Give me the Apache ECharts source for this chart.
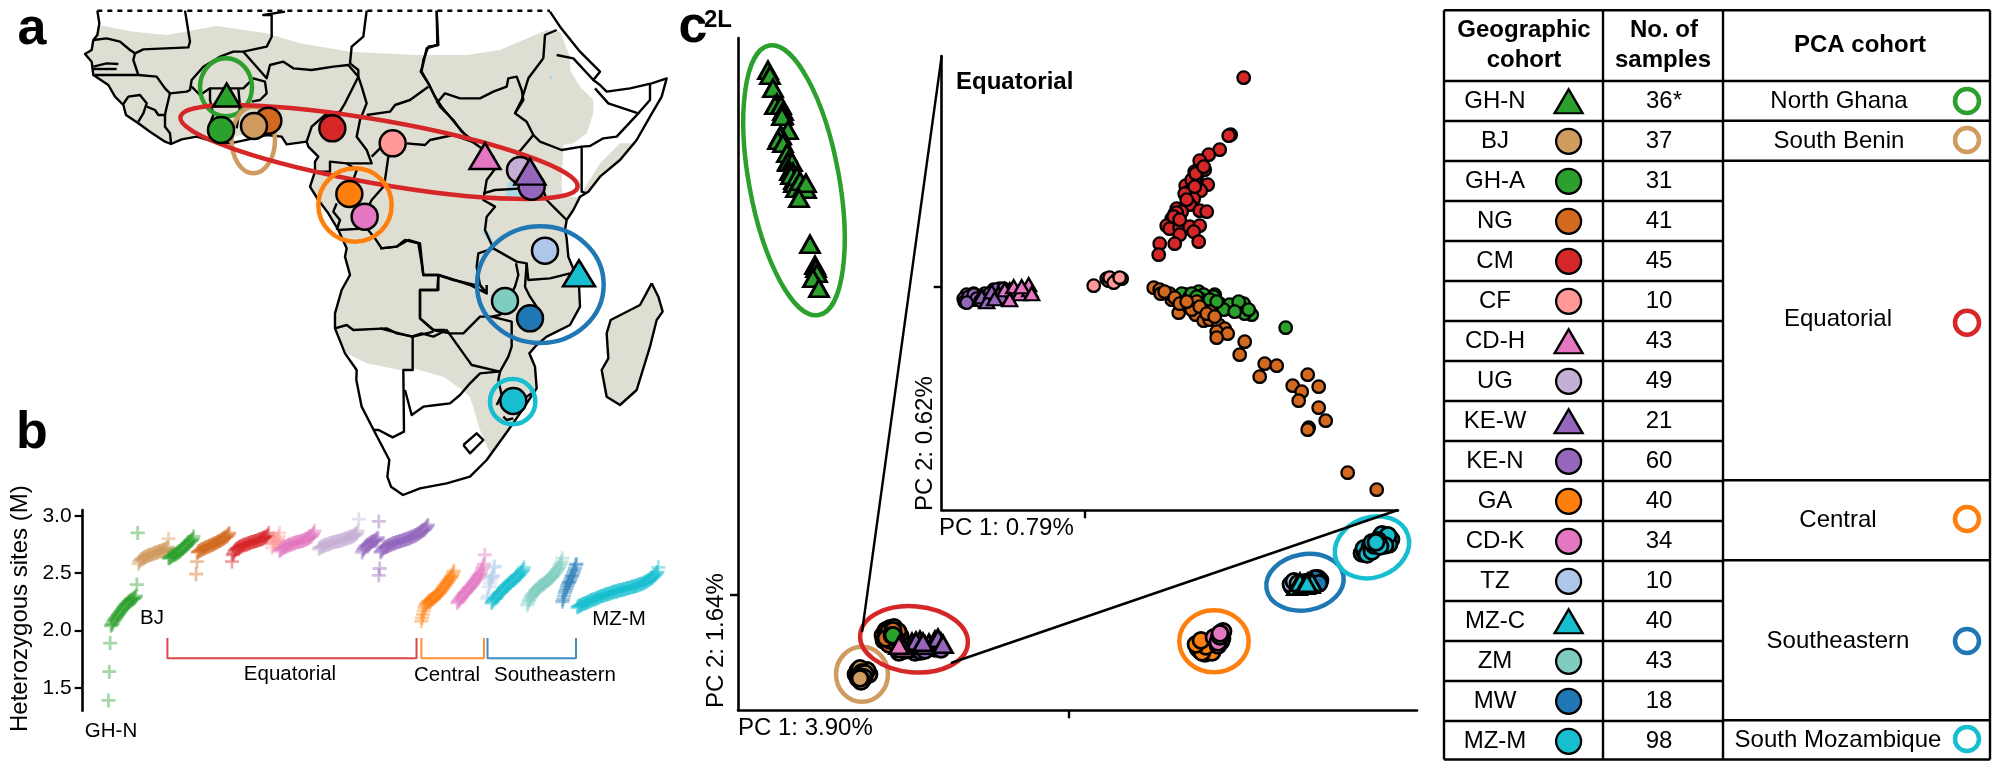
<!DOCTYPE html>
<html><head><meta charset="utf-8">
<style>html,body{margin:0;padding:0;background:#fff}#c{width:2000px;height:771px}</style>
<script src="https://cdn.jsdelivr.net/npm/echarts@6/dist/echarts.min.js"></script>
</head><body><div id="c"></div>
<script>
// ---------- cohorts ----------
const cohorts = ['GH-N','BJ','GH-A','NG','CM','CF','CD-H','UG','KE-W','KE-N','GA','CD-K','TZ','MZ-C','ZM','MW','MZ-M'];
const sampleLabels = ['36*','37','31','41','45','10','43','49','21','60','40','34','10','40','43','18','98'];
const cohortColors = ['#2ca02c','#cf9b5f','#2ca02c','#d2691e','#d62728','#ff9896','#e377c2','#c5b0d5','#9467bd','#9467bd','#ff7f0e','#e377c2','#aec7e8','#17becf','#7fcdc0','#1f77b4','#17becf'];
const triangleCohorts = ['GH-N','CD-H','KE-W','MZ-C'];
const pcaCohorts = ['North Ghana','South Benin','Equatorial','Central','Southeastern','South Mozambique'];
const pcaColors = ['#2ca02c','#cf9b5f','#d62728','#ff7f0e','#1f77b4','#17becf'];

// ---------- panel b: heterozygous sites (millions), sorted in each cohort ----------
const hetRankStart = [0,36,72,105,148,196,205,252,304,324,375,418,454,459,502,544,562];
const hetGHN = [1.39,1.64,1.89,2.04,2.05,2.06,2.08,2.09,2.10,2.11,2.12,2.13,2.14,2.15,2.16,2.17,2.18,2.19,2.20,2.21,2.22,2.23,2.23,2.24,2.25,2.25,2.26,2.26,2.27,2.27,2.28,2.28,2.29,2.30,2.40,2.85];
const hetBJ = [2.58,2.60,2.61,2.62,2.62,2.63,2.63,2.64,2.64,2.64,2.65,2.65,2.65,2.66,2.66,2.66,2.66,2.67,2.67,2.67,2.68,2.68,2.68,2.68,2.69,2.69,2.69,2.69,2.70,2.70,2.70,2.71,2.71,2.71,2.72,2.73,2.80];
const hetGHA = [2.63,2.63,2.64,2.64,2.65,2.65,2.66,2.66,2.66,2.67,2.67,2.68,2.68,2.69,2.69,2.70,2.71,2.71,2.72,2.73,2.74,2.74,2.75,2.76,2.76,2.77,2.78,2.78,2.79,2.80,2.82];
const hetNG = [2.49,2.60,2.68,2.69,2.69,2.70,2.70,2.71,2.71,2.71,2.72,2.72,2.72,2.73,2.73,2.73,2.74,2.74,2.74,2.75,2.75,2.75,2.76,2.76,2.76,2.77,2.77,2.78,2.78,2.78,2.79,2.79,2.80,2.80,2.81,2.81,2.82,2.82,2.83,2.84,2.85];
const hetCM = [2.60,2.66,2.67,2.69,2.70,2.71,2.71,2.72,2.72,2.73,2.73,2.73,2.74,2.74,2.74,2.75,2.75,2.75,2.75,2.76,2.76,2.76,2.76,2.77,2.77,2.77,2.77,2.78,2.78,2.78,2.78,2.79,2.79,2.79,2.79,2.80,2.80,2.80,2.81,2.81,2.81,2.82,2.82,2.83,2.85];
const hetCF = [2.72,2.75,2.76,2.77,2.78,2.78,2.79,2.80,2.82,2.85];
const hetCDH = [2.69,2.70,2.71,2.71,2.72,2.72,2.73,2.73,2.73,2.74,2.74,2.74,2.75,2.75,2.75,2.75,2.76,2.76,2.76,2.76,2.77,2.77,2.77,2.77,2.77,2.78,2.78,2.78,2.78,2.79,2.79,2.79,2.80,2.80,2.80,2.81,2.81,2.82,2.82,2.83,2.84,2.85,2.87];
const hetUG = [2.71,2.72,2.72,2.73,2.73,2.73,2.74,2.74,2.74,2.75,2.75,2.75,2.75,2.76,2.76,2.76,2.76,2.77,2.77,2.77,2.77,2.77,2.78,2.78,2.78,2.78,2.78,2.79,2.79,2.79,2.79,2.80,2.80,2.80,2.80,2.81,2.81,2.81,2.81,2.82,2.82,2.82,2.83,2.83,2.84,2.84,2.85,2.87,2.97];
const hetKEW = [2.68,2.70,2.71,2.72,2.73,2.74,2.74,2.75,2.75,2.76,2.76,2.77,2.77,2.78,2.78,2.78,2.79,2.79,2.80,2.81,2.95];
const hetKEN = [2.48,2.54,2.68,2.69,2.70,2.71,2.72,2.72,2.73,2.73,2.73,2.74,2.74,2.74,2.75,2.75,2.75,2.76,2.76,2.76,2.76,2.77,2.77,2.77,2.77,2.78,2.78,2.78,2.78,2.79,2.79,2.79,2.79,2.80,2.80,2.80,2.80,2.81,2.81,2.81,2.82,2.82,2.82,2.83,2.83,2.83,2.84,2.84,2.85,2.85,2.86,2.86,2.87,2.87,2.88,2.88,2.89,2.90,2.91,2.92];
const hetGA = [2.08,2.11,2.14,2.17,2.20,2.22,2.23,2.24,2.25,2.25,2.26,2.26,2.27,2.27,2.28,2.28,2.29,2.30,2.30,2.31,2.32,2.32,2.33,2.34,2.35,2.36,2.37,2.38,2.39,2.40,2.41,2.42,2.43,2.44,2.45,2.46,2.47,2.48,2.50,2.52];
const hetCDK = [2.24,2.25,2.26,2.27,2.28,2.29,2.30,2.31,2.32,2.33,2.33,2.34,2.35,2.36,2.37,2.37,2.38,2.39,2.40,2.41,2.42,2.43,2.44,2.45,2.46,2.47,2.48,2.49,2.50,2.52,2.54,2.56,2.58,2.66];
const hetTZ = [2.28,2.30,2.38,2.41,2.44,2.46,2.47,2.48,2.55,2.56];
const hetMZC = [2.24,2.25,2.26,2.27,2.28,2.28,2.29,2.30,2.31,2.32,2.33,2.33,2.34,2.35,2.36,2.37,2.37,2.38,2.39,2.39,2.40,2.41,2.41,2.42,2.43,2.43,2.44,2.44,2.45,2.46,2.46,2.47,2.48,2.48,2.49,2.50,2.51,2.52,2.53,2.55];
const hetZM = [2.22,2.24,2.26,2.27,2.29,2.30,2.31,2.32,2.33,2.34,2.35,2.36,2.36,2.37,2.38,2.38,2.39,2.39,2.40,2.40,2.41,2.41,2.42,2.43,2.43,2.44,2.44,2.45,2.46,2.46,2.47,2.48,2.49,2.50,2.51,2.52,2.53,2.54,2.55,2.57,2.58,2.60,2.63];
const hetMW = [2.25,2.27,2.30,2.33,2.35,2.37,2.39,2.41,2.42,2.43,2.45,2.47,2.48,2.50,2.52,2.54,2.57,2.58];
const hetMZM = [2.20,2.21,2.21,2.22,2.22,2.22,2.23,2.23,2.23,2.24,2.24,2.24,2.25,2.25,2.25,2.26,2.26,2.26,2.27,2.27,2.27,2.27,2.28,2.28,2.28,2.29,2.29,2.29,2.30,2.30,2.30,2.30,2.31,2.31,2.31,2.31,2.32,2.32,2.32,2.32,2.33,2.33,2.33,2.33,2.34,2.34,2.34,2.34,2.34,2.35,2.35,2.35,2.35,2.35,2.36,2.36,2.36,2.36,2.36,2.37,2.37,2.37,2.37,2.37,2.38,2.38,2.38,2.38,2.38,2.39,2.39,2.39,2.39,2.40,2.40,2.40,2.40,2.41,2.41,2.41,2.42,2.42,2.42,2.43,2.43,2.44,2.44,2.45,2.45,2.46,2.46,2.47,2.48,2.48,2.49,2.50,2.51,2.55];
const hetValues = [hetGHN,hetBJ,hetGHA,hetNG,hetCM,hetCF,hetCDH,hetUG,hetKEW,hetKEN,hetGA,hetCDK,hetTZ,hetMZC,hetZM,hetMW,hetMZM];

// ---------- panel c: main PCA (PC1, PC2) ----------
const pcaGHN = [[-301,524],[-299,519],[-296,506],[-292,491],[-294,489],[-288,489],[-286,483],[-286,479],[-287,478],[-281,464],[-288,459],[-289,458],[-291,454],[-286,451],[-282,441],[-281,433],[-281,432],[-277,432],[-279,423],[-276,422],[-275,414],[-278,419],[-275,411],[-272,418],[-273,406],[-269,413],[-265,408],[-263,405],[-263,411],[-270,396],[-259,350],[-254,329],[-253,326],[-252,321],[-256,316],[-250,306]];
const pcaBJ = [[-213,-80],[-200,-80],[-202,-76],[-211,-76],[-209,-74],[-207,-78],[-204,-79],[-211,-84],[-205,-83],[-207,-86],[-210,-82],[-208,-87],[-209,-84]];
const pcaCM = [[-172,-46],[-169,-41],[-178,-35]];
const pcaNG = [[-186,-41],[-183,-36],[-179,-34],[-175,-33],[-171,-37],[-185,-46],[-180,-50],[-174,-47],[-181,-38],[-176,-36],[-179,-46],[-174,-43],[-183,-44],[-177,-41]];
const pcaGHA = [[-176,-41]];
const pcaUG = [[-150,-53],[-155,-50],[-147,-52]];
const pcaKEN = [[-170,-58],[-164,-56],[-154,-58],[-148,-57],[-144,-56],[-134,-54],[-159,-51],[-128,-55]];
const pcaKEW = [[-157,-48],[-140,-49],[-128,-48],[-149,-46],[-134,-46],[-144,-51],[-153,-47],[-131,-44],[-126,-50],[-146,-48]];
const pcaCDH = [[-165,-54],[-170,-51]];
const pcaGA = [[131,-56],[136,-59],[141,-54],[134,-51],[139,-48],[143,-58],[129,-54],[133,-58],[137,-52],[127,-50],[132,-46]];
const pcaCDK = [[154,-37],[147,-46],[153,-44],[145,-43],[149,-51],[152,-47],[150,-44],[149,-48],[151,-42],[151,-39]];
const pcaTZ = [[224,11],[226,8],[223,8],[222,10],[225,13]];
const pcaZM = [[231,9],[236,12],[241,11],[229,11],[234,8],[243,9]];
const pcaMW = [[249,16],[251,14],[247,12],[243,13],[246,16],[250,11]];
const pcaMZC = [[228,8],[234,9],[241,10],[231,12],[239,12],[236,9],[243,12],[238,11]];
const pcaMZM = [[293,41],[296,42],[299,45],[295,46],[301,47],[298,40],[303,43],[316,56],[319,53],[311,57],[317,58],[314,51],[322,55],[320,50],[313,60],[319,59],[316,49],[305,49],[309,54],[311,48],[303,52],[307,52]];
const pcaOuter = [['BJ',pcaBJ],['CM',pcaCM],['NG',pcaNG],['GH-A',pcaGHA],['UG',pcaUG],['KE-N',pcaKEN],['KE-W',pcaKEW],['CD-H',pcaCDH],['GA',pcaGA],['CD-K',pcaCDK],['TZ',pcaTZ],['ZM',pcaZM],['MW',pcaMW],['MZ-C',pcaMZC],['MZ-M',pcaMZM],['GH-N',pcaGHN]];

// ---------- panel c inset: Equatorial PCA ----------
const eqCM = [[159,209],[146,152],[144,151],[135,137],[124,132],[115,126],[120,117],[110,115],[112,110],[123,102],[101,101],[110,105],[114,98],[104,95],[116,96],[104,89],[109,88],[105,82],[92,78],[97,75],[115,76],[122,75],[90,73],[92,74],[87,68],[94,63],[82,61],[85,58],[95,59],[105,60],[115,61],[109,55],[95,52],[90,43],[114,45],[75,43],[74,32],[100,93],[107,107],[111,113],[89,70],[95,67],[102,87],[110,100],[119,120]];
const eqGHA = [[201,-41],[167,-28],[159,-17],[149,-24],[134,-17],[123,-15],[100,-8],[114,-5],[130,-8],[101,-8],[122,-12],[110,-13],[142,-22],[135,-17],[152,-20],[160,-27],[129,-10],[97,-7],[119,-8],[105,-10],[145,-18],[139,-23],[154,-15],[115,-12],[125,-13],[104,-12],[132,-15],[150,-25],[164,-23],[107,-7],[112,-10]];
const eqNG = [[94,-26],[111,-28],[119,-34],[125,-33],[134,-38],[140,-42],[132,-45],[143,-47],[132,-51],[160,-55],[155,-68],[180,-77],[192,-79],[175,-90],[223,-88],[234,-100],[208,-99],[217,-105],[214,-114],[234,-121],[241,-134],[224,-141],[223,-143],[263,-186],[292,-203],[112,-15],[104,-20],[125,-25],[87,-13],[107,-23],[69,-1],[75,-3],[76,-7],[85,-7],[80,-5],[90,-11],[95,-17],[102,-15],[115,-20],[122,-27],[130,-30]];
const eqCF = [[9,1],[23,7],[34,8],[37,8],[22,8],[24,6],[25,9],[32,7],[29,4],[35,9]];
const eqUG = [[-118,-8],[-111,-7],[-106,-10],[-100,-7],[-91,-3],[-85,-2],[-110,-13],[-114,-11],[-96,-9]];
const eqKEN = [[-121,-12],[-120,-15],[-116,-10],[-111,-8],[-108,-12],[-101,-10],[-95,-7],[-88,-3],[-98,-13],[-91,-12],[-81,-2],[-118,-16],[-104,-14],[-86,-9]];
const eqKEW = [[-103,-10],[-98,-15],[-93,-5],[-86,-7],[-80,-3],[-75,-3],[-83,-10],[-90,-12]];
const eqCDH = [[-80,-3],[-71,0],[-65,-7],[-55,-3],[-75,-13],[-56,2],[-63,0],[-53,-7]];
const pcaInner = [['CM',eqCM],['GH-A',eqGHA],['NG',eqNG],['CF',eqCF],['UG',eqUG],['KE-N',eqKEN],['KE-W',eqKEW],['CD-H',eqCDH]];

// ---------- panel a: map outlines ----------
const eastShift = 1140;
const landMain = [[295,75],[400,95],[500,105],[650,78],[800,100],[900,130],[1050,155],[1250,165],[1400,165],[1500,150],[1640,90],[1680,95],[1710,170],[1710,210],[1740,260],[1780,300],[1780,340],[1760,400],[1720,430],[1690,435],[1685,560],[1690,590],[1740,590],[1720,630],[1700,660],[1695,690],[1705,770],[1730,830],[1737,855],[1740,920],[1710,975],[1640,1010],[1610,1035],[1588,1060],[1605,1100],[1610,1165],[1560,1240],[1525,1290],[1470,1360],[1440,1290],[1410,1190],[1380,1165],[1330,1130],[1240,1105],[1200,1110],[1100,1090],[1040,1060],[1005,985],[1005,940],[1025,870],[1050,825],[1035,770],[1040,745],[1015,690],[985,640],[955,600],[930,560],[945,515],[945,485],[955,470],[925,440],[920,425],[860,433],[845,410],[800,405],[720,405],[660,430],[640,425],[590,410],[545,418],[513,432],[495,425],[450,395],[415,370],[378,345],[370,315],[345,290],[325,255],[280,225],[275,185],[255,162],[275,150],[280,120],[292,105]];
const landKenyaCoast = [[1750,570],[1800,490],[1860,430],[1910,430],[1860,480],[1800,530],[1760,580]];
const landMadagascar = [[1955,850],[1975,890],[1988,935],[1970,960],[1950,1040],[1910,1170],[1860,1215],[1820,1190],[1805,1110],[1825,1075],[1820,1000],[1832,960],[1920,915]];
const lakeVictoria = [[1525,545],[1515,590],[1590,592],[1580,560],[1550,545]];
const lakeTanganyika = [[1450,680],[1448,700],[1470,730],[1480,725],[1465,695]];
const lakeTana = [[1648,230],[1652,240],[1658,232],[1652,226]];
const coastLine = [[292,32],[298,70],[292,105],[280,120],[275,150],[255,162],[275,185],[280,225],[325,255],[345,290],[370,315],[378,345],[415,370],[450,395],[495,425],[513,432],[545,418],[590,410],[640,425],[690,430],[760,415],[800,405],[845,410],[860,433],[920,425],[925,440],[955,470],[945,485],[945,515],[930,560],[955,600],[985,640],[1015,690],[1040,745],[1035,770],[1050,825],[1025,870],[1005,940],[1005,985],[1035,1060],[1070,1110],[1069,1140],[1085,1220],[1121,1290],[1168,1380],[1162,1430],[1173,1460],[1209,1485],[1260,1465],[1340,1450],[1410,1430],[1460,1380],[1525,1290],[1560,1240],[1610,1165],[1605,1100],[1588,1060],[1610,1035],[1640,1010],[1710,975],[1740,920],[1737,855],[1730,830],[1705,770],[1700,715],[1695,690],[1700,660],[1720,630],[1740,590],[1765,575],[1800,530],[1860,480],[1910,420],[1950,350],[1985,290],[2000,235],[1955,250],[1890,265],[1820,275],[1800,255],[1780,240],[1800,215],[1740,155],[1680,80],[1650,35]];
const borderLinesWest = [
 [[280,120],[320,115],[360,125],[390,150],[405,160]],
 [[555,32],[570,125],[565,142],[430,148],[405,160],[400,180],[415,225]],
 [[280,200],[320,190],[355,192]],[[280,207],[350,207]],
 [[285,225],[360,225],[415,225],[470,230],[495,265],[510,280],[560,275],[570,270],[575,240],[610,200],[660,170],[700,155],[730,155],[800,140],[815,110],[815,45],[790,45],[855,35]],
 [[370,312],[385,290],[420,285],[440,310],[430,340],[415,365]],
 [[440,320],[465,330],[475,345],[495,345],[495,380],[510,400],[513,430]],
 [[510,280],[498,330],[495,345]],
 [[575,260],[600,285],[630,265],[730,265],[760,235],[795,245],[800,280],[780,300],[755,305]],
 [[630,265],[630,300],[640,345],[630,370],[640,420]],
 [[715,265],[720,320],[710,385]],
 [[730,155],[800,235],[810,195],[850,185],[880,205],[935,210],[1000,200],[1045,195],[1075,230],[1055,270],[1035,310],[1020,335],[975,345],[935,380],[920,425]],
 [[1100,32],[1090,110],[1055,140],[1050,190],[1075,210],[1075,230],[1085,260],[1100,310],[1080,360],[1070,410],[1100,450],[1115,490],[1040,490],[990,485],[990,515],[945,515]],
 [[1310,32],[1312,135],[1280,145],[1270,190],[1262,215],[1285,250],[1305,290],[1320,320],[1360,360],[1385,395],[1430,430]],
 [[1100,345],[1170,335],[1185,315],[1230,300],[1285,260]],
 [[1115,470],[1140,445],[1160,440]],[[1220,430],[1275,435],[1290,420],[1360,405],[1430,430]],
 [[1165,470],[1155,540],[1150,560],[1115,600],[1105,620]],
 [[1040,490],[1070,510],[1060,540],[1050,560]],[[1010,610],[1000,635],[1020,660],[1010,690]],
 [[1015,690],[1100,685],[1125,715],[1145,745],[1190,740],[1215,720],[1255,730],[1265,790],[1270,825],[1315,825],[1312,870],[1260,870],[1260,955],[1300,990],[1335,990]],
 [[1315,825],[1360,840],[1425,855]],
 [[1005,985],[1040,975],[1060,990],[1160,985],[1190,1000],[1240,1010],[1300,995]],
 [[1238,1010],[1238,1110],[1210,1110],[1212,1295],[1178,1312],[1136,1290],[1121,1290]]
];
const borderLinesEast = [
 [[170,32],[175,135],[145,140],[130,180],[125,215],[145,250],[165,290],[185,320],[230,375],[270,420],[340,470],[350,500],[320,540],[310,600],[345,620],[320,650],[315,690],[340,745],[295,760],[290,800],[300,855],[320,880],[270,855],[210,835],[175,825],[175,870],[120,870],[120,955],[160,990],[210,1000],[250,1000],[300,950],[335,950],[395,965],[395,1040],[385,1070],[360,1115],[355,1140],[365,1185],[350,1215]],
 [[170,310],[195,280],[240,295],[300,295],[340,275],[380,260],[385,235],[410,230],[425,270],[430,300],[405,340],[440,365],[460,405],[435,435],[410,465]],
 [[490,175],[495,105],[530,90]],[[490,175],[445,235],[425,300],[405,340]],[[530,165],[580,175],[640,240]],
 [[645,265],[685,310],[775,340],[710,410],[670,415],[630,438],[605,440],[545,450],[480,425],[460,405]],
 [[810,250],[810,300],[775,340]],[[605,440],[605,575],[620,580]],
 [[490,570],[500,600],[525,625],[560,660]],
 [[310,580],[345,570],[430,565],[490,545]],[[400,547],[495,547]],
 [[340,745],[410,785],[440,790],[445,840],[510,835],[570,820]],
 [[408,790],[415,825],[405,860],[360,945],[335,950]],[[440,790],[435,860],[450,890],[490,950]],
 [[320,855],[320,880],[300,855]],
 [[0,745],[50,740],[85,720],[120,730],[130,825],[175,825]],
 [[0,985],[95,1010],[125,1000],[160,1010],[200,990],[250,1060],[275,1095],[360,1115]],
 [[75,1170],[95,1245],[130,1220],[170,1215],[210,1210],[240,1185],[270,1150],[300,1120],[355,1115]],
 [[370,1250],[380,1260],[400,1255]],[[440,1190],[455,1180]],
 [[250,1335],[290,1300],[310,1320],[270,1360],[250,1335]],
 [[815,850],[835,890],[848,935],[830,960],[810,1040],[770,1170],[720,1215],[680,1190],[665,1110],[685,1075],[680,1000],[692,960],[780,915],[815,850]]
];
const mapSites = {'GH-N':[680,285],'GH-A':[663,390],'NG':[805,362],'BJ':[762,378],'CM':[997,385],'CF':[1178,430],'GA':[1048,582],'CD-K':[1094,650],'CD-H':[1455,468],'UG':[1560,510],'KE-N':[1595,560],'KE-W':[1590,515],'TZ':[1635,752],'MZ-C':[1737,820],'ZM':[1515,903],'MW':[1590,955],'MZ-M':[1540,1203]};
const mapSiteOrder = ['GH-A','NG','BJ','GH-N','CM','CF','GA','CD-K','CD-H','UG','KE-N','KE-W','TZ','MZ-C','ZM','MW','MZ-M'];
const mapRings = [[678,262,78,87,0,'#2ca02c'],[760,420,65,100,0,'#cf9b5f'],[1137,456,605,95,-10,'#d62728'],[1065,615,110,110,0,'#ff7f0e'],[1621,854,190,175,0,'#1f77b4'],[1538,1205,68,68,0,'#17becf']];
const pcaRings = [[-275,414,45,137,10.4,'#2ca02c'],[-207,-80,26,27.5,0,'#cf9b5f'],[-155,-45,54,33,-5,'#d62728'],[145,-47,34.7,31,0,'#ff7f0e'],[236,12,39,28,10,'#1f77b4'],[303,47,38,30,20,'#17becf']];

// ---------- helpers ----------
const FONT = '"Liberation Sans", Arial, sans-serif';
const PLUS = 'path://M8,0h4v8h8v4h-8v8h-4v-8h-8v-4h8z';
const colorOf = n => cohortColors[cohorts.indexOf(n)];
const isTri = n => triangleCohorts.includes(n);
const series = [];
const OV = {xAxisIndex:0,yAxisIndex:0};
const polySeries = (list, style, type) => series.push({type:'custom',...OV,clip:false,silent:true,coordinateSystem:'cartesian2d',
  data:list.map((_,i)=>[i,i]),
  renderItem:(p,api)=>({type,shape:{points:list[p.dataIndex].map(q=>api.coord(q))},style})});
const ringSeries = (list, lw, axis) => series.push({type:'custom',...axis,clip:false,silent:true,coordinateSystem:'cartesian2d',
  data:list.map((r,i)=>[r[0],r[1],i]),
  renderItem:(p,api)=>{const r=list[p.dataIndex];const c=api.coord([r[0],r[1]]);const s=api.size([r[2],r[3]]);
    return {type:'ellipse',x:c[0],y:c[1],rotation:r[4]*Math.PI/180,shape:{cx:0,cy:0,rx:s[0],ry:s[1]},style:{fill:'transparent',stroke:r[5],lineWidth:lw}};}});
const markers = (name,data,axis,cSize,tSize,lw) => series.push({type:'scatter',name,...axis,clip:false,silent:true,data,
  symbol:isTri(name)?'triangle':'circle',symbolSize:isTri(name)?tSize:cSize,
  itemStyle:{color:colorOf(name),borderColor:'#000',borderWidth:lw,opacity:1}});
const shiftE = l => l.map(p=>[p[0]+eastShift,p[1]]);

// map fills
polySeries([landMain,landKenyaCoast,landMadagascar],{fill:'#deded3'},'polygon');
polySeries([lakeVictoria,lakeTanganyika,lakeTana],{fill:'#a9d8e8'},'polygon');
polySeries([coastLine,...borderLinesWest,...borderLinesEast.map(shiftE)],{fill:'none',stroke:'#000',lineWidth:2.4,lineJoin:'round'},'polyline');
series.push({type:'line',...OV,silent:true,showSymbol:false,data:[[292,32],[1650,32]],lineStyle:{color:'#000',width:2.5,type:[5,5]}});
mapSiteOrder.forEach(n=>{
  const big = {'GH-N':[27,23],'CD-H':[31,26],'KE-W':[31,26],'MZ-C':[32,26]};
  markers(n,[mapSites[n]],OV,26,big[n]||[27,23],2.5);
});
ringSeries(mapRings,4.5,OV);

// panel b
hetValues.forEach((vals,i)=>series.push({type:'scatter',name:cohorts[i],xAxisIndex:1,yAxisIndex:1,silent:true,
  symbol:PLUS,symbolSize:14,data:vals.map((v,k)=>[hetRankStart[i]+k,v]),
  itemStyle:{color:cohortColors[i],opacity:0.42}}));
[[[167.4,638],[167.4,658.3],[416.5,658.3],[416.5,638],'#d62728'],[[421.4,638],[421.4,658.3],[484,658.3],[484,638],'#ff7f0e'],[[487.5,638],[487.5,658.3],[576,658.3],[576,638],'#1f77b4']].forEach(b=>
  series.push({type:'line',...OV,silent:true,showSymbol:false,data:b.slice(0,4).map(p=>[p[0]*3,p[1]*3]),lineStyle:{color:b[4],width:2,opacity:.85}}));

// connector lines for the zoom
[[[2825,168],[2586,1896]],[[4194,1530],[2853,1989]]].forEach(l=>series.push({type:'line',...OV,silent:true,showSymbol:false,data:l,lineStyle:{color:'#000',width:2.4}}));

// panel c
const A2={xAxisIndex:2,yAxisIndex:2}, A3={xAxisIndex:3,yAxisIndex:3};
pcaOuter.forEach(([n,d])=>markers(n,d,A2,16,[19,17],2.8));
ringSeries(pcaRings,4.5,A2);
pcaInner.forEach(([n,d])=>markers(n,d,A3,12.5,[15,13],2.3));

// table markers
cohorts.forEach((n,i)=>markers(n,[[1568.6*3,(101.3+40*i)*3]],OV,25,[28,24],2.3));
const ringYs=[101,140,322.7,519,641,739];
pcaCohorts.forEach((n,i)=>series.push({type:'scatter',name:n,...OV,clip:false,silent:true,symbol:'circle',symbolSize:24,
  data:[[1967*3,ringYs[i]*3]],itemStyle:{color:'#fff',borderColor:pcaColors[i],borderWidth:4.5,opacity:1}}));

// ---------- text and table rules ----------
const T=(text,x,y,size,opt={})=>({type:'text',x,y,rotation:opt.rot||0,z:50,silent:true,
  style:{text,fontFamily:FONT,fontSize:size,fontWeight:opt.bold?'bold':'normal',fill:'#000',align:opt.align||'center',verticalAlign:'middle'}});
const R=(x1,y1,x2,y2)=>({type:'line',z:40,silent:true,shape:{x1,y1,x2,y2},style:{stroke:'#000',lineWidth:2.4}});
const graphics=[
 T('a',32,30,52,{bold:true}),T('b',32,434,52,{bold:true}),T('c',693,28,52,{bold:true}),
 T('2L',718,20,24,{bold:true}),T('Equatorial',956,82,24,{bold:true,align:'left'}),
 T('PC 1: 3.90%',738,728,24,{align:'left'}),T('PC 1: 0.79%',939,528,24,{align:'left'}),
 T('PC 2: 1.64%',716,708,24,{align:'left',rot:Math.PI/2}),T('PC 2: 0.62%',925,511,24,{align:'left',rot:Math.PI/2}),
 T('Heterozygous sites (M)',20,732,24,{align:'left',rot:Math.PI/2}),
 T('GH-N',111,731,20.5),T('BJ',152,618,20.5),T('MZ-M',619,619,20.5),
 T('Equatorial',290,674,20.5),T('Central',447,675,20.5),T('Southeastern',555,675,20.5),
 T('Geographic',1524,30,24,{bold:true}),T('cohort',1524,60.6,24,{bold:true}),
 T('No. of',1664,30,24,{bold:true}),T('samples',1663,60.6,24,{bold:true}),T('PCA cohort',1860,45,24,{bold:true}),
 R(1444,10.3,1990,10.3),R(1444,81,1990,81),R(1444,10.3,1444,759.5),R(1603,10.3,1603,759.5),R(1723,10.3,1723,759.5),R(1990,10.3,1990,759.5)
];
cohorts.forEach((n,i)=>{
  const top=81+40*i;
  graphics.push(T(n,1495,top+20.5,24),T(sampleLabels[i],i===0?1664:1659,top+20.5,24));
  graphics.push(R(1444,top+40-(i===16?1.5:0),1723,top+40-(i===16?1.5:0)));
});
[120.7,160.7,480.3,560.3,720.3,759.5].forEach(y=>graphics.push(R(1723,y,1990,y)));
[[101,1839],[141,1839],[319,1838],[520,1838],[641.7,1838],[740,1838]].forEach((p,i)=>graphics.push(T(pcaCohorts[i],p[1],p[0],24)));

const hidden=(extra)=>Object.assign({type:'value',show:false},extra);
const axisLine={show:true,onZero:false,lineStyle:{color:'#000',width:2.6}};
const pcaX=(gi,min,max,tick)=>({type:'value',gridIndex:gi,min,max,splitLine:{show:false},axisLabel:{show:false},axisLine,
  axisTick:{show:true,length:tick,customValues:[0],lineStyle:{color:'#000',width:2.4}}});

const chart=echarts.init(document.getElementById('c'),null,{renderer:'canvas'});
chart.setOption({
 animation:false,backgroundColor:'#fff',
 grid:[
  {left:0,top:0,width:2000,height:771},
  {left:82.6,top:510,width:587.4,height:200.7},
  {left:738,top:38,width:679,height:672.3},
  {left:941.7,top:56,width:456.3,height:454.3}
 ],
 xAxis:[
  hidden({gridIndex:0,min:0,max:6000}),
  hidden({gridIndex:1,min:-31,max:673}),
  pcaX(2,-331,348,8),
  pcaX(3,-143,313.3,8)
 ],
 yAxis:[
  hidden({gridIndex:0,min:0,max:2313,inverse:true}),
  {type:'value',gridIndex:1,min:1.3,max:3.05,splitLine:{show:false},axisLine,
   axisTick:{show:true,length:8,customValues:[1.5,2,2.5,3],lineStyle:{color:'#000',width:2.2}},
   axisLabel:{customValues:[1.5,2,2.5,3],margin:11,fontFamily:FONT,fontSize:21,color:'#000',formatter:v=>Number(v).toFixed(1)}},
  pcaX(2,-116,556.3,8),
  pcaX(3,-223.6,230.7,8)
 ],
 series,graphic:graphics
});
</script></body></html>
